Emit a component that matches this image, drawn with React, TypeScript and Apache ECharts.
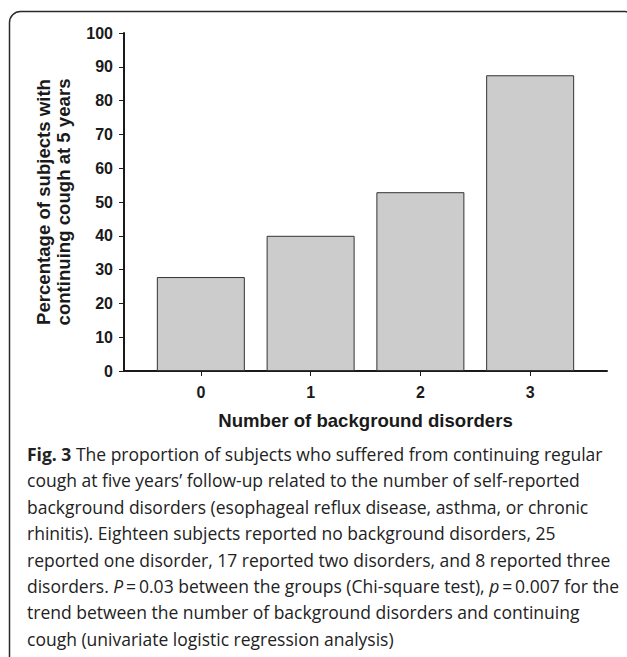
import React, { useEffect, useRef } from "react";
import * as echarts from "echarts";

const categories = [0, 1, 2, 3];
const percentages = [27.8, 40, 52.9, 87.5];
const yMin = 0;
const yMax = 100;
const yInterval = 10;
const xAxisTitle = "Number of background disorders";
const yAxisTitle = ["Percentage of subjects with", "continuing cough at 5 years"];
const captionLines = [
  "{b|Fig. 3} The proportion of subjects who suffered from continuing regular",
  "cough at five years’ follow-up related to the number of self-reported",
  "background disorders (esophageal reflux disease, asthma, or chronic",
  "rhinitis). Eighteen subjects reported no background disorders, 25",
  "reported one disorder, 17 reported two disorders, and 8 reported three",
  "disorders. {i|P}\u2009=\u20090.03 between the groups (Chi-square test), {i|p}\u2009=\u20090.007 for the",
  "trend between the number of background disorders and continuing",
  "cough (univariate logistic regression analysis)",
];

const chartFont = '"Liberation Sans", Arial, Helvetica, sans-serif';
const captionFont = '"Open Sans", "Noto Sans", sans-serif';
const ink = "#1a1a1a";

export default function App() {
  const ref = useRef<HTMLDivElement>(null);
  useEffect(() => {
    document.body.style.margin = "0";
    const chart = echarts.init(ref.current!, null, { renderer: "svg" });
    const captionFontSize = 17.5;
    const captionTop = 454;
    const captionStep = 26.4;
    chart.setOption({
      animation: false,
      backgroundColor: "#ffffff",
      grid: { left: 124, top: 33, right: 20, bottom: 286, containLabel: false },
      xAxis: {
        type: "value",
        min: -0.7,
        max: 3.7,
        splitLine: { show: false },
        axisLine: { show: true, onZero: false, lineStyle: { color: ink, width: 2 } },
        axisTick: { show: true, customValues: categories, length: 5, lineStyle: { color: ink, width: 1 } },
        axisLabel: {
          customValues: categories,
          margin: 13,
          fontSize: 16,
          fontWeight: "bold",
          fontFamily: chartFont,
          color: ink,
        },
        name: xAxisTitle,
        nameLocation: "middle",
        nameGap: 40,
        nameTextStyle: { fontSize: 18.6, fontWeight: "bold", fontFamily: chartFont, color: ink },
      },
      yAxis: {
        type: "value",
        min: yMin,
        max: yMax,
        interval: yInterval,
        splitLine: { show: false },
        axisLine: { show: true, onZero: false, lineStyle: { color: ink, width: 2 } },
        axisTick: { show: true, length: 5, lineStyle: { color: ink, width: 1 } },
        axisLabel: {
          margin: 11,
          fontSize: 16,
          fontWeight: "bold",
          fontFamily: chartFont,
          color: ink,
        },
        name: yAxisTitle.join("\n"),
        nameLocation: "middle",
        nameRotate: 90,
        nameGap: 51,
        nameTextStyle: { fontSize: 18.6, lineHeight: 20, fontWeight: "bold", fontFamily: chartFont, color: ink, align: "center" },
      },
      series: [
        {
          type: "bar",
          data: categories.map((c, i) => [c, percentages[i]]),
          barWidth: 88,
          itemStyle: { color: "#cccccc", borderColor: "#333333", borderWidth: 1 },
        },
      ],
      graphic: [
        {
          type: "rect",
          shape: { x: 9.5, y: 11.5, width: 626, height: 700, r: 11 },
          style: { fill: "none", stroke: "#2a2a2a", lineWidth: 1.5 },
          silent: true,
        },
        ...captionLines.map((line, i) => ({
          type: "text",
          x: 27,
          y: captionTop + i * captionStep,
          style: {
            text: line,
            fontSize: captionFontSize,
            fontFamily: captionFont,
            fill: "#222222",
            verticalAlign: "middle",
            align: "left",
            rich: {
              b: { fontWeight: "bold", fontSize: captionFontSize, fontFamily: captionFont, fill: "#222222" },
              i: { fontStyle: "italic", fontSize: captionFontSize, fontFamily: captionFont, fill: "#222222" },
            },
          },
        })),
      ],
    });
    return () => chart.dispose();
  }, []);
  return <div ref={ref} style={{ position: "absolute", left: 0, top: 0, width: 627, height: 657 }} />;
}
